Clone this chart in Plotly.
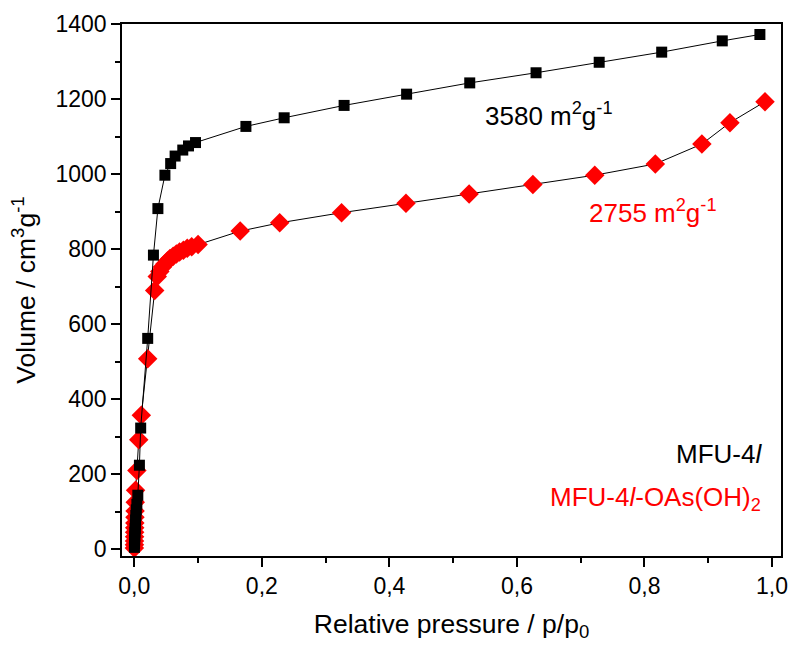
import plotly.graph_objects as go

# N2 physisorption isotherms (77 K)
p_mfu = [0.0002, 0.0004, 0.0006, 0.0008, 0.0010, 0.0013, 0.0016, 0.0020, 0.0025, 0.0030, 0.0040,
         0.0055, 0.008, 0.010, 0.021, 0.030, 0.037,
         0.048, 0.057, 0.064, 0.076, 0.085, 0.096,
         0.175, 0.235, 0.329, 0.427, 0.526, 0.630, 0.729, 0.827, 0.922, 0.981]
v_mfu = [5, 15, 25, 35, 45, 55, 65, 78, 90, 105, 120,
         144, 224, 323, 562, 784, 908,
         997, 1028, 1048, 1064, 1075, 1084,
         1127, 1150, 1183, 1213, 1243, 1270, 1298, 1325, 1355, 1372]

p_oas = [0.0001, 0.0002, 0.0003, 0.0004, 0.0005, 0.0006, 0.0008, 0.0010, 0.0012, 0.0015,
         0.002, 0.004, 0.007, 0.011, 0.021, 0.032,
         0.036, 0.040, 0.044, 0.048, 0.052, 0.056, 0.061, 0.066, 0.071, 0.077, 0.083, 0.090, 0.100,
         0.166, 0.228, 0.325, 0.426, 0.525, 0.625, 0.722, 0.817, 0.890, 0.934, 0.989]
v_oas = [3, 12, 22, 33, 45, 57, 70, 85, 102, 125,
         157, 210, 292, 357, 508, 690,
         727, 740, 752, 760, 768, 775, 781, 787, 792, 797, 802, 806, 812,
         848, 870, 897, 922, 947, 972, 997, 1027, 1080, 1137, 1193]

x_ticks = [0.0, 0.2, 0.4, 0.6, 0.8, 1.0]
y_ticks = [0, 200, 400, 600, 800, 1000, 1200, 1400]

FONT = "Arial, Liberation Sans, sans-serif"

fig = go.Figure()

fig.add_trace(go.Scatter(
    x=p_oas, y=v_oas, mode="lines+markers", name="MFU-4l-OAs(OH)2",
    line=dict(color="black", width=1),
    marker=dict(symbol="diamond", size=15, color="#ff0000", line=dict(width=0)),
))
fig.add_trace(go.Scatter(
    x=p_mfu, y=v_mfu, mode="lines+markers", name="MFU-4l",
    line=dict(color="black", width=1),
    marker=dict(symbol="square", size=11, color="black", line=dict(width=0)),
))

axis_common = dict(
    showline=True, linecolor="black", linewidth=1.5, mirror=True,
    ticks="outside", ticklen=9, tickwidth=1.5, tickcolor="black",
    showgrid=False, zeroline=False, automargin=False,
    tickfont=dict(family=FONT, size=23, color="black"),
)

fig.update_xaxes(
    range=[-0.0193, 1.0141], tickvals=x_ticks, tickformat=".1f",
    minor=dict(ticks="outside", ticklen=5, tickwidth=1.5, tickcolor="black", dtick=0.1, tick0=0),
    title=dict(text="Relative pressure / p/p<sub>0</sub>", font=dict(family=FONT, size=26.5, color="black"),
               standoff=16),
    **axis_common,
)
fig.update_yaxes(
    range=[-18, 1400], tickvals=y_ticks, tickformat="d",
    minor=dict(ticks="outside", ticklen=5, tickwidth=1.5, tickcolor="black", dtick=100, tick0=0),
    title=dict(text="Volume / cm<sup>3</sup>g<sup>-1</sup>", font=dict(family=FONT, size=26.5, color="black"),
               standoff=12),
    **axis_common,
)

ann_font = dict(family=FONT, size=26)
fig.add_annotation(x=0.650, y=1160, text="3580 m<sup>2</sup>g<sup>-1</sup>", showarrow=False,
                   font=dict(color="black", **ann_font))
fig.add_annotation(x=0.813, y=901, text="2755 m<sup>2</sup>g<sup>-1</sup>", showarrow=False,
                   font=dict(color="#ff0000", **ann_font))
fig.add_annotation(x=0.987, y=253, text="MFU-4<i>l</i>", showarrow=False, xanchor="right",
                   font=dict(color="black", **ann_font))
fig.add_annotation(x=0.986, y=136, text="MFU-4<i>l</i>-OAs(OH)<sub>2</sub>", showarrow=False,
                   xanchor="right", font=dict(color="#ff0000", **ann_font))

fig.update_layout(
    width=790, height=648,
    margin=dict(l=122, r=9, t=24, b=92),
    paper_bgcolor="white", plot_bgcolor="white",
    showlegend=False,
    separators=",.",
    font=dict(family=FONT, color="black"),
)

fig.write_html("out.html")
